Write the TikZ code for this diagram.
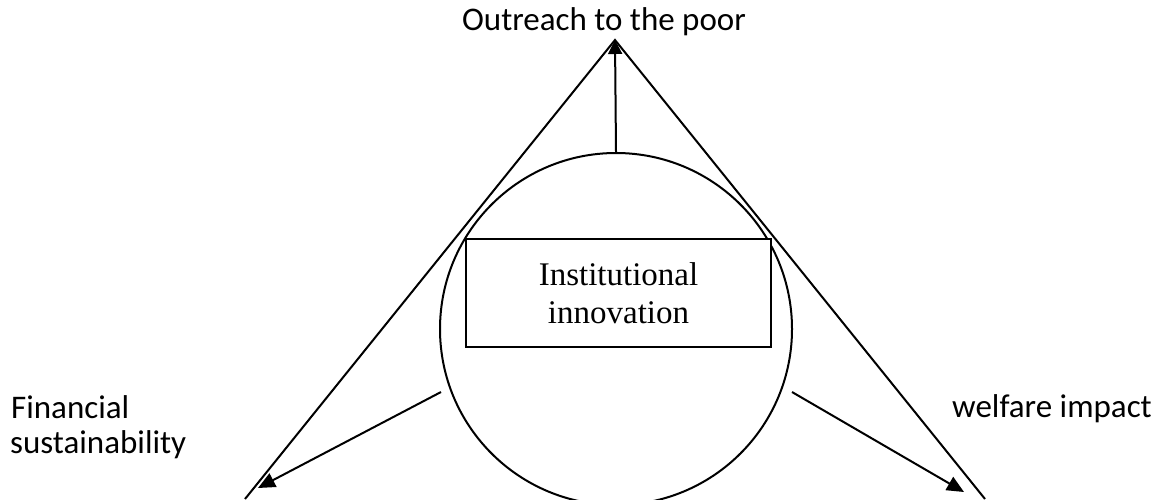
\documentclass[tikz,border=0pt]{standalone}
\usepackage{fontspec}
\setmainfont{Carlito}
\newfontfamily\serifface{Liberation Serif}
\usetikzlibrary{arrows.meta}
\begin{document}
\begin{tikzpicture}[x=1pt,y=-1pt,
  edge/.style={line width=2pt},
  arr/.style={line width=2pt,-{Triangle[length=17pt,width=15pt]}},
  lbl/.style={inner sep=0pt,font=\fontsize{33}{35}\selectfont},
]
\useasboundingbox (0,0) rectangle (1161,499);
\coordinate (apex) at (615,40);
\coordinate (bl) at (245,499);
\coordinate (br) at (985,499);
\draw[edge] (bl) -- (apex) -- (br);
\node[draw,circle,line width=2pt,minimum size=352pt,inner sep=0pt] (circ) at (616,329) {};
\node[draw,line width=2pt,fill=white,minimum width=305pt,minimum height=108pt,inner sep=0pt,
  align=center,font=\serifface\fontsize{33}{38}\selectfont] (box) at (618.5,293) {Institutional\\innovation};
\coordinate (ls) at (441,392);
\coordinate (le) at (258,488);
\coordinate (rs) at (792,392);
\coordinate (re) at (964,492);
\draw[edge,-{Triangle[length=14pt,width=14pt]}] (circ.north) -- (apex);
\draw[arr] (ls) -- (le);
\draw[arr] (rs) -- (re);
\node[lbl,anchor=base] (top) at (604,30) {Outreach to the poor};
\node[lbl,anchor=base west] (fin1) at (11,418) {Financial};
\node[lbl,anchor=base west] (fin2) at (10,453) {sustainability};
\node[lbl,anchor=base west] (wel) at (952,417) {welfare impact};
\end{tikzpicture}
\end{document}
